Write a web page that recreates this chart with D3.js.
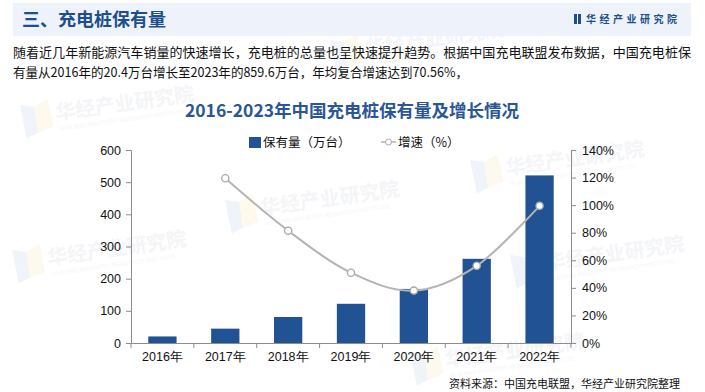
<!DOCTYPE html>
<html><head><meta charset="utf-8">
<script src="https://cdn.jsdelivr.net/npm/d3@7"></script>
<style>html,body{margin:0;padding:0;background:#fff;}svg{display:block;}</style>
</head><body>
<svg id="c" width="705" height="392"></svg>
<script>
const categories = ["2016年","2017年","2018年","2019年","2020年","2021年","2022年"];
const stockValues = [20.4, 44.6, 80.8, 121.9, 168.1, 261.7, 521.0];
const growthValues = [null, 119.5, 81.5, 51.0, 38.0, 56.0, 99.5];
const leftTicks = [0,100,200,300,400,500,600];
const rightTicks = [0,20,40,60,80,100,120,140];

const svg = d3.select("#c");
const CJK = "'Noto Sans CJK SC','Noto Sans',sans-serif";
const LAT = "'Liberation Sans',Arial,sans-serif";

// faint watermarks (kept fully inside the picture)
const wm = [[20,105],[225,200],[410,352],[470,160],[510,255],[12,250],[330,40]];
wm.forEach(([x,y])=>{
  const g = svg.append("g").attr("transform",`translate(${x},${y}) rotate(-8)`).attr("opacity",0.45);
  g.append("path").attr("d","M0,0 L14,4 L14,30 L2,34 Z").attr("fill","#dfe8f5");
  g.append("path").attr("d","M14,4 L28,-2 L30,26 L14,30 Z").attr("fill","#fbf3d6");
  g.append("text").attr("x",34).attr("y",20).attr("font-family",CJK).attr("font-weight",700)
    .attr("font-size",20).attr("fill","#e6e9ee").text("华经产业研究院");
  g.append("text").attr("x",36).attr("y",31).attr("font-family",LAT)
    .attr("font-size",6).attr("fill","#e9ecf0").text("HUAJING INDUSTRY RESEARCH INSTITUTE");
});

// header band
svg.append("rect").attr("x",13).attr("y",3).attr("width",678).attr("height",33).attr("fill","#eef3fb");
svg.append("text").attr("x",22).attr("y",26).attr("font-family",CJK).attr("font-weight",700)
  .attr("font-size",18).attr("fill","#1f4e8c").text("三、充电桩保有量");
svg.append("rect").attr("x",574).attr("y",14).attr("width",3).attr("height",10).attr("fill","#1f4e8c");
svg.append("rect").attr("x",578).attr("y",14).attr("width",3).attr("height",10).attr("fill","#1f4e8c");
svg.append("text").attr("x",586).attr("y",23).attr("font-family",CJK).attr("font-weight",700)
  .attr("font-size",10).attr("letter-spacing",3.5).attr("fill","#1f4e8c").text("华经产业研究院");

// paragraph
const para = ["随着近几年新能源汽车销量的快速增长，充电桩的总量也呈快速提升趋势。根据中国充电联盟发布数据，中国充电桩保",
              "有量从2016年的20.4万台增长至2023年的859.6万台，年均复合增速达到70.56%，"];
svg.append("text").attr("x",13).attr("y",57).attr("font-family",CJK).attr("font-size",13)
  .attr("fill","#111").attr("textLength",678).attr("lengthAdjust","spacingAndGlyphs").text(para[0]);
svg.append("text").attr("x",13).attr("y",77).attr("font-family",CJK).attr("font-size",13)
  .attr("fill","#111").attr("textLength",455).attr("lengthAdjust","spacingAndGlyphs").text(para[1]);

// chart title
svg.append("text").attr("x",352).attr("y",117).attr("text-anchor","middle").attr("font-family",CJK)
  .attr("font-weight",700).attr("font-size",17.5).attr("fill","#2a5597").text("2016-2023年中国充电桩保有量及增长情况");

// scales
const x0 = 131, x1 = 571, yTop = 150, yBot = 343;
const x = d3.scaleBand().domain(categories).range([x0,x1]).padding(0);
const yL = d3.scaleLinear().domain([0,600]).range([yBot,yTop]);
const yR = d3.scaleLinear().domain([0,140]).range([yBot,yTop]);
const barW = x.bandwidth()*0.45;

// bars
svg.append("g").selectAll("rect").data(stockValues).join("rect")
  .attr("x",(d,i)=>x(categories[i])+x.bandwidth()/2-barW/2)
  .attr("y",d=>yL(d)).attr("width",barW).attr("height",d=>yBot-yL(d)).attr("fill","#215394");

// axes
const axisColor = "#8c8c8c";
const gl = svg.append("g").attr("transform",`translate(${x0},0)`)
  .call(d3.axisLeft(yL).tickValues(leftTicks).tickSize(5).tickPadding(5));
const gr = svg.append("g").attr("transform",`translate(${x1},0)`)
  .call(d3.axisRight(yR).tickValues(rightTicks).tickSize(5).tickPadding(6).tickFormat(d=>d+"%"));
const gb = svg.append("g").attr("transform",`translate(0,${yBot})`)
  .call(d3.axisBottom(x).tickSize(0).tickPadding(9));
[gl,gr].forEach(g=>{
  g.selectAll("path,line").attr("stroke",axisColor);
  g.selectAll("text").attr("font-family",LAT).attr("font-size",12.5).attr("fill","#111");
});
gb.select("path").attr("stroke",axisColor);
gb.selectAll("text").attr("font-family",LAT).attr("font-size",12.5).attr("fill","#111");
// category boundary ticks
const bounds = categories.map(c=>x(c)).concat([x1]);
svg.append("g").selectAll("line").data(bounds).join("line")
  .attr("x1",d=>d).attr("x2",d=>d).attr("y1",yBot).attr("y2",yBot+5).attr("stroke",axisColor);

// line
const pts = growthValues.map((v,i)=>({v,i})).filter(d=>d.v!=null);
const line = d3.line().x(d=>x(categories[d.i])+x.bandwidth()/2).y(d=>yR(d.v)).curve(d3.curveCardinal.tension(0));
svg.append("path").datum(pts).attr("d",line).attr("fill","none").attr("stroke","#b4b4b4").attr("stroke-width",2);
svg.append("g").selectAll("circle").data(pts).join("circle")
  .attr("cx",d=>x(categories[d.i])+x.bandwidth()/2).attr("cy",d=>yR(d.v)).attr("r",3.6)
  .attr("fill","#fff").attr("stroke","#aaaaaa").attr("stroke-width",1.3);

// legend
svg.append("rect").attr("x",249).attr("y",137).attr("width",12).attr("height",11).attr("fill","#215394");
svg.append("text").attr("x",263).attr("y",147).attr("font-family",CJK).attr("font-size",12.5).attr("fill","#111").text("保有量（万台）");
svg.append("line").attr("x1",381).attr("x2",396).attr("y1",142).attr("y2",142).attr("stroke","#b4b4b4").attr("stroke-width",1.5);
svg.append("circle").attr("cx",388.5).attr("cy",142).attr("r",3).attr("fill","#fff").attr("stroke","#aaaaaa");
svg.append("text").attr("x",398).attr("y",147).attr("font-family",CJK).attr("font-size",12.5).attr("fill","#111").text("增速（%）");

// source
svg.append("text").attr("x",680).attr("y",388).attr("text-anchor","end").attr("font-family",CJK)
  .attr("font-size",11).attr("fill","#111").text("资料来源：中国充电联盟，华经产业研究院整理");
</script>
</body></html>
